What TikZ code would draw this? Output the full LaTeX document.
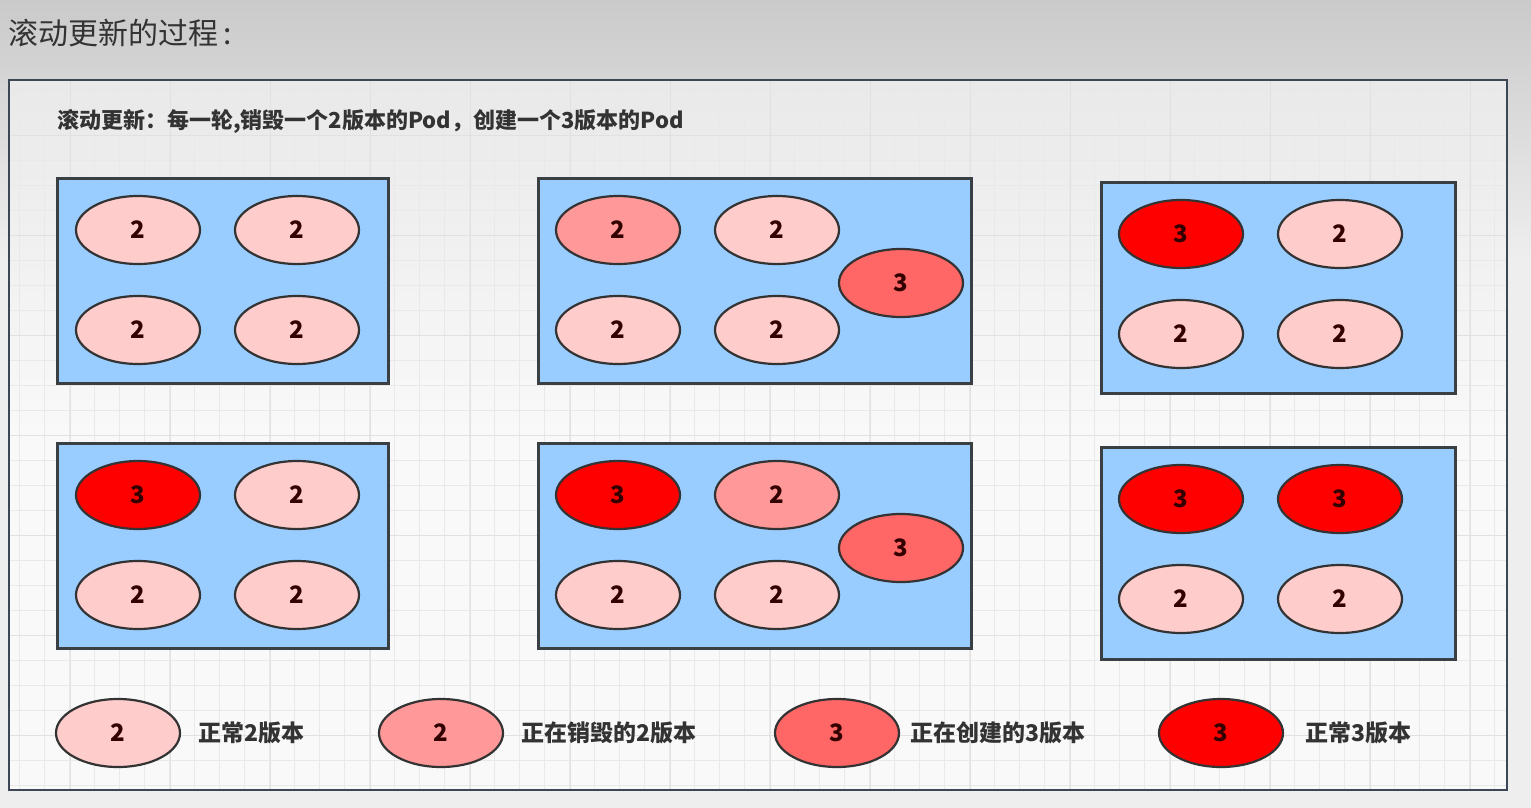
\documentclass[tikz,border=0pt]{standalone}
\usepackage{fontspec}
\setmainfont{Noto Sans CJK SC}
\usetikzlibrary{shapes.geometric}
\definecolor{bgtop}{HTML}{C9CAC9}
\definecolor{bgbot}{HTML}{EEEEEE}
\definecolor{paneltop}{HTML}{E9E9E9}
\definecolor{panelbot}{HTML}{F9F9F9}
\definecolor{gridc}{HTML}{E9E9E9}
\definecolor{gridm}{HTML}{E1E1E1}
\definecolor{panelline}{HTML}{3C4654}
\definecolor{boxfill}{HTML}{99CCFF}
\definecolor{boxline}{HTML}{3A3F44}
\definecolor{podline}{HTML}{333333}
\definecolor{podtext}{HTML}{330000}
\definecolor{pn2}{HTML}{FFCCCC}
\definecolor{pd2}{HTML}{FF9999}
\definecolor{pc3}{HTML}{FF6666}
\definecolor{pn3}{HTML}{FF0000}
\definecolor{txt}{HTML}{333333}
\tikzset{
  podbase/.style={ellipse, draw=podline, line width=2.2pt, minimum width=124pt, minimum height=68pt, inner sep=0pt, font=\fontsize{24}{24}\selectfont\bfseries, text=podtext},
  n2/.style={podbase, fill=pn2},
  d2/.style={podbase, fill=pd2},
  c3/.style={podbase, fill=pc3},
  n3/.style={podbase, fill=pn3},
  boxbase/.style={draw=boxline, line width=2.5pt, fill=boxfill, inner sep=0pt, anchor=north west},
  legtext/.style={anchor=west, font=\fontsize{23}{23}\selectfont\bfseries, text=txt, inner sep=0pt}
}
\begin{document}
\begin{tikzpicture}[x=1pt,y=-1pt]
\useasboundingbox (0,0) rectangle (1531,808);
\fill[top color=bgtop, bottom color=bgbot] (0,0) rectangle (1531,260);
\fill[bgbot] (0,259) rectangle (1531,808);
\node[anchor=west, inner sep=0pt, font=\fontsize{30}{30}\selectfont, text=txt] (title) at (8,33) {滚动更新的过程\,:};
% panel
\fill[top color=paneltop, bottom color=panelbot, middle color=panelbot] (9,80) rectangle (1507,790);
\begin{scope}
\clip (9,80) rectangle (1507,790);
\foreach \x in {19,44,...,1507} \draw[gridc, line width=0.8pt] (\x,80) -- (\x,790);
\foreach \y in {85,110,...,790} \draw[gridc, line width=0.8pt] (9,\y) -- (1507,\y);
\foreach \x in {70,170,...,1507} \draw[gridm, line width=1pt] (\x,80) -- (\x,790);
\foreach \y in {135,235,...,790} \draw[gridm, line width=1pt] (9,\y) -- (1507,\y);
\end{scope}
\draw[panelline, line width=2pt] (9,80) rectangle (1507,790);
\node[anchor=west, inner sep=0pt, font=\fontsize{22}{22}\selectfont\bfseries, text=txt] (sub) at (57,121) {滚动更新：每一轮,销毁一个2版本的Pod，创建一个3版本的Pod};
% boxes
\node[boxbase, minimum width=331pt, minimum height=205pt] (bA) at (56,177) {};
\node[boxbase, minimum width=433pt, minimum height=205pt] (bB) at (537,177) {};
\node[boxbase, minimum width=354pt, minimum height=211pt] (bC) at (1100,181) {};
\node[boxbase, minimum width=331pt, minimum height=205pt] (bD) at (56,442) {};
\node[boxbase, minimum width=433pt, minimum height=205pt] (bE) at (537,442) {};
\node[boxbase, minimum width=354pt, minimum height=212pt] (bF) at (1100,446) {};
% box A
\node[n2] (a1) at (138,230) {2};
\node[n2] (a2) at (297,230) {2};
\node[n2] (a3) at (138,330) {2};
\node[n2] (a4) at (297,330) {2};
% box B
\node[d2] (b1) at (618,230) {2};
\node[n2] (b2) at (777,230) {2};
\node[n2] (b3) at (618,330) {2};
\node[n2] (b4) at (777,330) {2};
\node[c3] (b5) at (901,283) {3};
% box C
\node[n3] (c1) at (1181,234) {3};
\node[n2] (c2) at (1340,234) {2};
\node[n2] (c3) at (1181,334) {2};
\node[n2] (c4) at (1340,334) {2};
% box D
\node[n3] (d1) at (138,495) {3};
\node[n2] (d2) at (297,495) {2};
\node[n2] (d3) at (138,595) {2};
\node[n2] (d4) at (297,595) {2};
% box E
\node[n3] (e1) at (618,495) {3};
\node[d2] (e2) at (777,495) {2};
\node[n2] (e3) at (618,595) {2};
\node[n2] (e4) at (777,595) {2};
\node[c3] (e5) at (901,548) {3};
% box F
\node[n3] (f1) at (1181,499) {3};
\node[n3] (f2) at (1340,499) {3};
\node[n2] (f3) at (1181,599) {2};
\node[n2] (f4) at (1340,599) {2};
% legend
\node[n2] (l1) at (118,733) {2};
\node[legtext] (t1) at (198,733) {正常2版本};
\node[d2] (l2) at (441,733) {2};
\node[legtext] (t2) at (521,733) {正在销毁的2版本};
\node[c3] (l3) at (837,733) {3};
\node[legtext] (t3) at (910,733) {正在创建的3版本};
\node[n3] (l4) at (1221,733) {3};
\node[legtext] (t4) at (1305,733) {正常3版本};
\end{tikzpicture}
\end{document}
